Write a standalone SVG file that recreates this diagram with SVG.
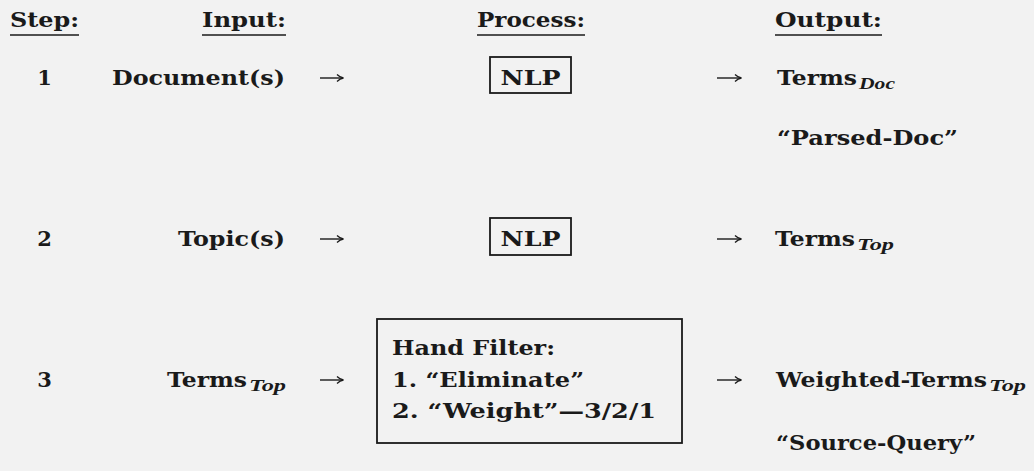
<svg xmlns="http://www.w3.org/2000/svg" width="1034" height="471" viewBox="0 0 1034 471">
  <defs>
    <style>
      .t { font-family: "DejaVu Serif", "Liberation Serif", serif; font-weight: bold; font-size: 21px; fill: #1a1a1a; }
      .sub { font-family: "Liberation Serif", "DejaVu Serif", serif; font-weight: bold; font-style: italic; font-size: 17px; fill: #1a1a1a; }
      .box { fill: none; stroke: #1a1a1a; stroke-width: 1.8; }
      .ul { stroke: #1a1a1a; stroke-width: 1.6; }
      .arr { stroke: #1a1a1a; stroke-width: 1.4; fill: none; marker-end: url(#head); }
    </style>
    <marker id="head" viewBox="0 0 8 8" refX="7.5" refY="4" markerWidth="8" markerHeight="8" markerUnits="userSpaceOnUse" orient="auto">
      <path d="M1.5,0.5 Q4.5,3.4 8,4 Q4.5,4.6 1.5,7.5" fill="none" stroke="#1a1a1a" stroke-width="1.3"/>
    </marker>
  </defs>
  <rect width="1034" height="471" fill="#f2f2f2"/>

  <g id="headers">
    <text class="t" x="10" y="27" textLength="69" lengthAdjust="spacingAndGlyphs">Step:</text>
    <line class="ul" x1="10" y1="35" x2="79" y2="35"/>
    <text class="t" x="202" y="27" textLength="84" lengthAdjust="spacingAndGlyphs">Input:</text>
    <line class="ul" x1="202" y1="35" x2="286" y2="35"/>
    <text class="t" x="477" y="27" textLength="108" lengthAdjust="spacingAndGlyphs">Process:</text>
    <line class="ul" x1="477" y1="35" x2="585" y2="35"/>
    <text class="t" x="775" y="27" textLength="107" lengthAdjust="spacingAndGlyphs">Output:</text>
    <line class="ul" x1="775" y1="35" x2="882" y2="35"/>
  </g>

  <!-- Step 1 -->
  <g id="step1">
    <text class="t" x="44.5" y="85" text-anchor="middle">1</text>
  </g>
  <g id="input1">
    <text class="t" x="112" y="85" textLength="173" lengthAdjust="spacingAndGlyphs">Document(s)</text>
  </g>
  <g id="process1">
    <rect class="box" x="490" y="57" width="81" height="36"/>
    <text class="t" x="500.5" y="85" textLength="60" lengthAdjust="spacingAndGlyphs">NLP</text>
  </g>
  <g id="output1">
    <text class="t" x="777" y="85" textLength="80" lengthAdjust="spacingAndGlyphs">Terms</text>
    <text class="sub" x="859" y="89" textLength="36" lengthAdjust="spacingAndGlyphs">Doc</text>
    <text class="t" x="777" y="145" textLength="181" lengthAdjust="spacingAndGlyphs">“Parsed-Doc”</text>
  </g>

  <!-- Step 2 -->
  <g id="step2">
    <text class="t" x="44.5" y="246" text-anchor="middle">2</text>
  </g>
  <g id="input2">
    <text class="t" x="178" y="246" textLength="107" lengthAdjust="spacingAndGlyphs">Topic(s)</text>
  </g>
  <g id="process2">
    <rect class="box" x="490" y="218" width="81" height="37"/>
    <text class="t" x="500.5" y="246" textLength="60" lengthAdjust="spacingAndGlyphs">NLP</text>
  </g>
  <g id="output2">
    <text class="t" x="775" y="246" textLength="80" lengthAdjust="spacingAndGlyphs">Terms</text>
    <text class="sub" x="857" y="250" textLength="37" lengthAdjust="spacingAndGlyphs">Top</text>
  </g>

  <!-- Step 3 -->
  <g id="step3">
    <text class="t" x="44.5" y="387" text-anchor="middle">3</text>
  </g>
  <g id="input3">
    <text class="t" x="167" y="387" textLength="80" lengthAdjust="spacingAndGlyphs">Terms</text>
    <text class="sub" x="249" y="391" textLength="37" lengthAdjust="spacingAndGlyphs">Top</text>
  </g>
  <g id="process3">
    <rect class="box" x="377" y="319" width="305" height="124"/>
    <text class="t" x="392" y="355" textLength="163" lengthAdjust="spacingAndGlyphs">Hand Filter:</text>
    <text class="t" x="392" y="387" textLength="192" lengthAdjust="spacingAndGlyphs">1. “Eliminate”</text>
    <text class="t" x="392" y="418" textLength="264" lengthAdjust="spacingAndGlyphs">2. “Weight”—3/2/1</text>
  </g>
  <g id="output3">
    <text class="t" x="776" y="387" textLength="211" lengthAdjust="spacingAndGlyphs">Weighted-Terms</text>
    <text class="sub" x="989" y="391" textLength="37" lengthAdjust="spacingAndGlyphs">Top</text>
    <text class="t" x="776" y="450" textLength="200" lengthAdjust="spacingAndGlyphs">“Source-Query”</text>
  </g>

  <g id="connectors">
    <line class="arr" x1="320" y1="78" x2="343" y2="78"/>
    <line class="arr" x1="717" y1="78" x2="741" y2="78"/>
    <line class="arr" x1="320" y1="239" x2="343" y2="239"/>
    <line class="arr" x1="717" y1="239" x2="741" y2="239"/>
    <line class="arr" x1="320" y1="380" x2="343" y2="380"/>
    <line class="arr" x1="717" y1="380" x2="741" y2="380"/>
  </g>
</svg>
